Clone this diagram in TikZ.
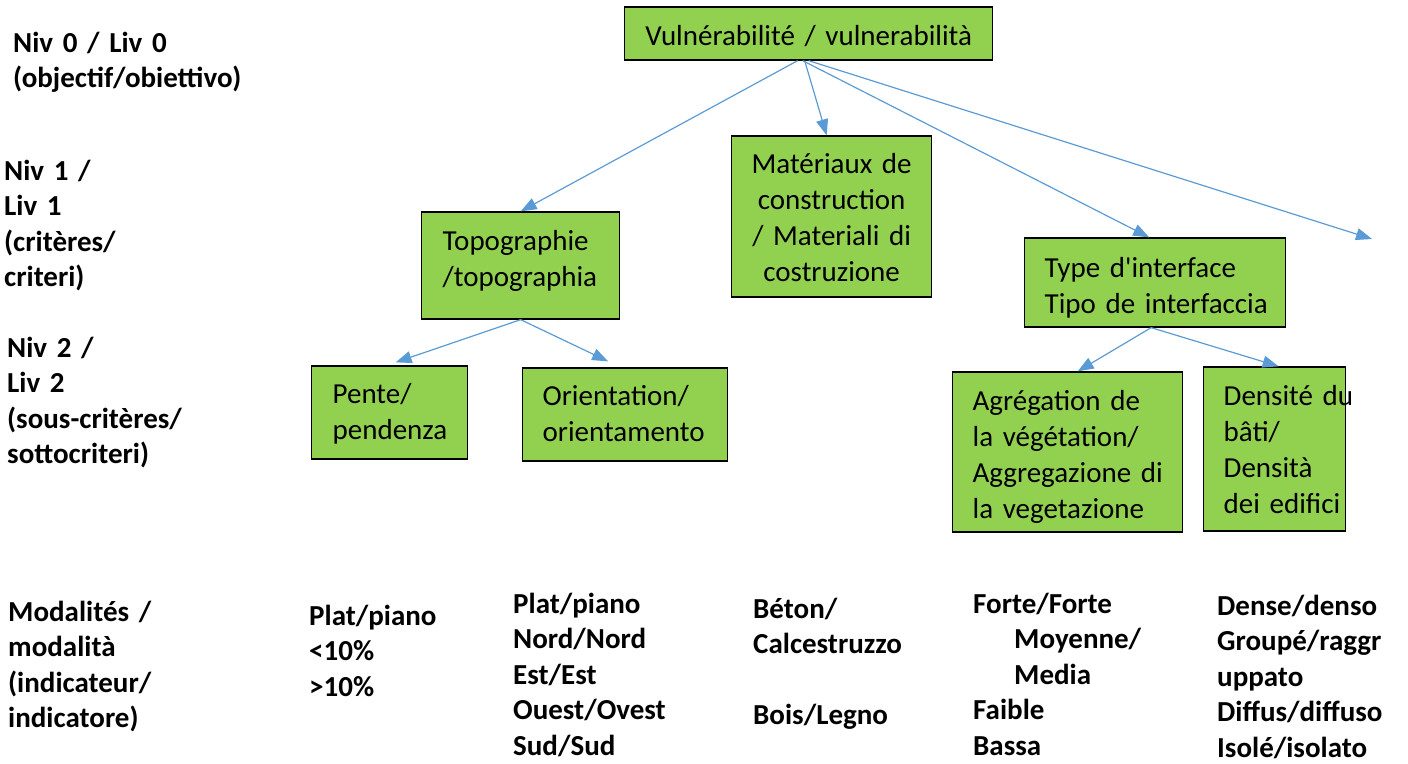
\documentclass[tikz,border=0pt]{standalone}
\usepackage{fontspec}
\setmainfont{Carlito}[Ligatures=TeXOff]
\usetikzlibrary{arrows.meta,calc}
\definecolor{boxgreen}{HTML}{92D050}
\definecolor{linkblue}{HTML}{5B9BD5}
\newcommand\oneline[1]{\mbox{#1}}
\begin{document}
\begin{tikzpicture}[x=1pt,y=-1pt,
  box/.style={draw=black, line width=1.3pt, fill=boxgreen, inner ysep=0pt,
    anchor=base west, align=left, font=\fontsize{29}{36}\selectfont},
  lbl/.style={anchor=base west, inner sep=0pt, align=left, text width=185pt,
    font={\fontsize{29}{35.5}\selectfont\bfseries}},
  link/.style={draw=linkblue, line width=1.2pt, -{Triangle[length=16pt,width=12pt]}}]
\useasboundingbox (0,0) rectangle (1408,763);

% boxes
\node[box, text width=348pt, inner xsep=10pt, align=center, text height=38pt, text depth=15pt]
  (vuln) at (624,45) {\oneline{Vulnérabilité / vulnerabilità}};
\node[box, text width=180pt, inner xsep=10pt, align=center, text height=37pt, text depth=124pt]
  (mat) at (731,173) {\oneline{Matériaux de}\\\oneline{construction}\\\oneline{/ Materiali di}\\\oneline{costruzione}};
\node[box, text width=156pt, inner xsep=21pt, text height=38pt, text depth=69pt]
  (topo) at (421,250) {\oneline{Topographie}\\\oneline{/topographia}};
\node[box, text width=221pt, inner xsep=20pt, text height=39pt, text depth=50pt]
  (type) at (1024,277) {\oneline{Type d'interface}\\\oneline{Tipo de interfaccia}};
\node[box, text width=114pt, inner xsep=21pt, text height=37pt, text depth=56pt]
  (pente) at (311,403) {\oneline{Pente/}\\\oneline{pendenza}};
\node[box, text width=165pt, inner xsep=20pt, text height=37pt, text depth=56pt]
  (orient) at (522,405) {\oneline{Orientation/}\\\oneline{orientamento}};
\node[box, text width=190pt, inner xsep=20pt, text height=38pt, text depth=122pt]
  (agr) at (952,410) {\oneline{Agrégation de}\\\oneline{la végétation/}\\\oneline{Aggregazione di}\\\oneline{la vegetazione}};
\node[box, text width=102pt, inner xsep=20pt, text height=38pt, text depth=126pt]
  (dens) at (1203,405) {\oneline{Densité du}\\\oneline{bâti/}\\\oneline{Densità}\\\oneline{dei edifici}};

% connectors
\coordinate (loose) at (1372,239);
\draw[link] ($(vuln.south)+(-11,0)$) -- (topo.north);
\draw[link] ($(vuln.south)+(-4,0)$) -- ($(mat.north)+(-5,0)$);
\draw[link] ($(vuln.south)+(-6,0)$) -- ($(type.north)+(-6,0)$);
\draw[link] (vuln.south) -- (loose);
\draw[link] (topo.south) -- ($(pente.north)+(6,-3)$);
\draw[link] (topo.south) -- ($(orient.north)+(-17,-6)$);
\draw[link] ($(type.south)+(-4,0)$) -- ($(agr.north)+(10,0)$);
\draw[link] ($(type.south)+(-4,0)$) -- ($(dens.north)+(4,0)$);

% level labels
\node[lbl, text width=245pt] (l0) at (13,52) {\oneline{Niv 0 / Liv 0}\\(objectif/obiettivo)};
\node[lbl] (l1) at (4,180) {\oneline{Niv 1 /}\\\oneline{Liv 1}\\(critères/\\criteri)};
\node[lbl] (l2) at (7,357) {\oneline{Niv 2 /}\\\oneline{Liv 2}\\(sous-critères/\\sottocriteri)};
\node[lbl] (l3) at (8,621) {\oneline{Modalités /}\\modalità\\(indicateur/\\indicatore)};

% modalities
\node[lbl] (m1) at (309,625) {Plat/piano\\<10\%\\>10\%};
\node[lbl] (m2) at (513,613) {Plat/piano\\Nord/Nord\\Est/Est\\Ouest/Ovest\\Sud/Sud};
\node[lbl] (m3) at (753,618) {Béton/\\Calcestruzzo\\[35.5pt]Bois/Legno};
\node[lbl] (m4) at (973,613) {Forte/Forte\\\hspace*{41pt}Moyenne/\\\hspace*{41pt}Media\\Faible\\Bassa};
\node[lbl] (m5) at (1217,615) {Dense/denso\\Groupé/raggr\\uppato\\Diffus/diffuso\\Isolé/isolato};
\end{tikzpicture}
\end{document}
